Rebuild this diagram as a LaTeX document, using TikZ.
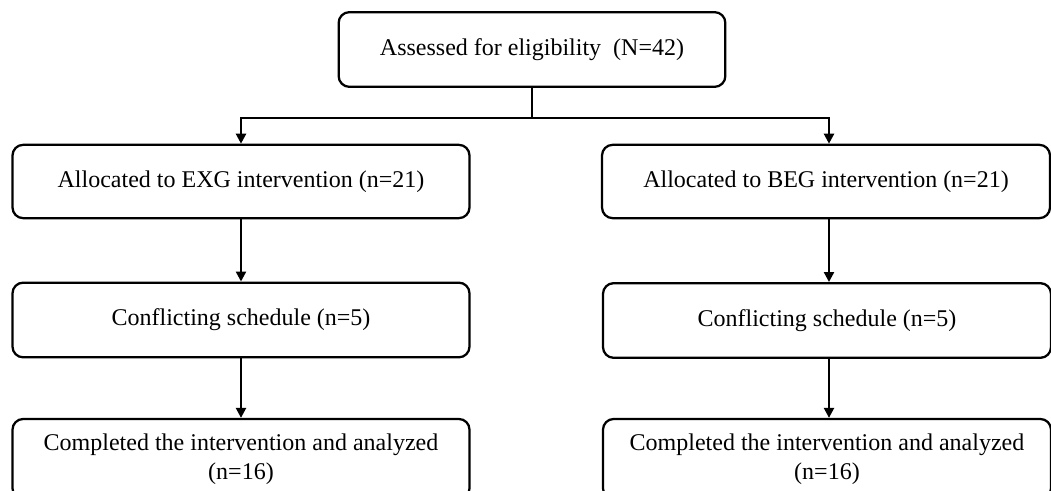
\documentclass[tikz,border=0pt]{standalone}
\usepackage{fontspec}
\setmainfont{Liberation Serif}
\usetikzlibrary{arrows.meta}
\tikzset{
  flowbox/.style={draw=black, line width=1.7pt, rounded corners=8pt, align=center,
    font=\fontsize{18}{21.75}\selectfont, inner sep=0pt},
  conn/.style={draw=black, line width=1.7pt},
  arr/.style={conn, -{Triangle[length=7.5pt,width=7.5pt]}}
}
\begin{document}
\begin{tikzpicture}[x=0.75pt,y=-0.75pt]
\useasboundingbox (0,0) rectangle (1051,491);
\clip (0,0) rectangle (1051,491);
% top box
\node[flowbox, minimum width=290pt, minimum height=56pt] (top) at (532,49.5) {Assessed for eligibility~~(N=42)};
% left column
\node[flowbox, minimum width=342.75pt, minimum height=55pt] (a1) at (241,181.5) {Allocated to EXG intervention (n=21)};
\node[flowbox, minimum width=342.75pt, minimum height=56pt] (a2) at (241,320) {Conflicting schedule (n=5)};
\node[flowbox, minimum width=342.75pt, minimum height=60pt] (a3) at (241,459) {Completed the intervention and analyzed\\(n=16)};
% right column
\coordinate (bx) at (829,0);
\node[flowbox, minimum width=336pt, minimum height=55pt] (b1) at (826,181.5) {Allocated to BEG intervention (n=21)};
\node[flowbox, minimum width=336pt, minimum height=56pt] (b2) at (827,320.5) {Conflicting schedule (n=5)};
\node[flowbox, minimum width=336pt, minimum height=60pt] (b3) at (827,459) {Completed the intervention and analyzed\\(n=16)};
% connectors
\coordinate (j) at (532,118);
\draw[conn] (top.south) -- (j);
\draw[arr] (j) -| (a1.north);
\draw[arr] (j) -| (b1.north -| bx);
\draw[arr] (a1.south) -- (a2.north);
\draw[arr] (b1.south -| bx) -- (b2.north -| bx);
\draw[arr] (a2.south) -- (a3.north);
\draw[arr] (b2.south -| bx) -- (b3.north -| bx);
\end{tikzpicture}
\end{document}
